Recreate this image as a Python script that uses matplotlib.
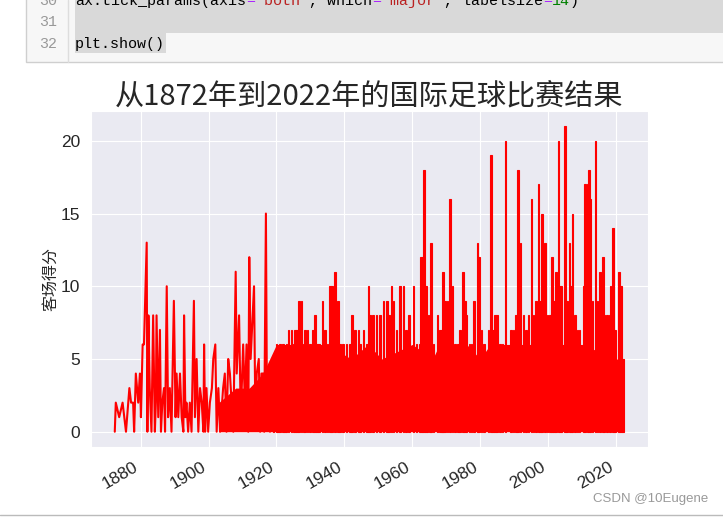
import matplotlib
matplotlib.use('Agg')
import matplotlib.pyplot as plt
import seaborn as sns
from matplotlib.patches import Rectangle
from matplotlib.ticker import MultipleLocator

# away goals (year as decimal)
# sparse early matches, drawn as a plain line
early_years = [1872.4, 1872.7, 1873.7, 1874.7, 1875.7, 1876.7, 1877.2, 1877.8, 1878.1, 1878.6,
               1879.3, 1879.8, 1880.1, 1880.6, 1881.0, 1881.8, 1882.0, 1882.3, 1882.7, 1883.2,
               1883.7, 1884.2, 1884.5, 1884.7, 1885.2, 1885.7, 1886.0, 1886.4, 1886.9, 1887.2,
               1887.7, 1888.1, 1888.6, 1889.1, 1889.8, 1890.3, 1890.6, 1891.1, 1891.6, 1892.1,
               1892.6, 1892.8, 1893.2, 1893.5, 1894.0, 1894.5, 1895.0, 1895.7, 1896.0, 1896.5,
               1897.0, 1897.5, 1898.0, 1898.5, 1898.7, 1899.0, 1899.4, 1899.9, 1900.4, 1901.0,
               1901.4, 1902.0, 1902.4, 1902.9, 1903.4, 1904.3, 1904.8, 1905.3, 1905.8, 1906.3,
               1906.8, 1907.3, 1908.0, 1908.3, 1909.0, 1909.5, 1910.2, 1910.7, 1911.2, 1911.7,
               1912.0, 1912.4, 1913.4, 1913.8, 1914.2, 1914.8, 1915.2, 1915.6, 1916.1, 1916.4,
               1916.9, 1917.2, 1917.6, 1918.1]
early_goals = [0, 2, 1, 2, 0, 3, 2, 2, 0, 4,
               2, 4, 1, 6, 6, 13, 0, 8, 3, 0,
               8, 0, 2, 8, 1, 7, 0, 2, 3, 0,
               10, 1, 3, 0, 9, 1, 4, 1, 4, 1,
               0, 8, 1, 2, 0, 2, 0, 9, 1, 5,
               0, 3, 2, 0, 6, 0, 3, 0, 2, 3,
               5, 6, 0, 3, 0, 3, 4, 0, 5, 4,
               2, 0, 11, 4, 8, 1, 6, 2, 6, 0,
               12, 5, 10, 1, 4, 5, 0, 4, 4, 0,
               15, 2, 3, 0]

# level under which the later matches merge into solid red
floor_years = [1903.0, 1903.0, 1908.0, 1912.0, 1916.0, 1918.0, 1920.0, 1935.0, 1942.0, 1947.0,
               1951.0, 1960.0, 1966.0, 1968.0, 1976.0, 1980.0, 1983.0, 1990.0, 2010.0, 2020.0,
               2022.4, 2022.4]
floor_goals = [0, 2, 3, 3, 4, 5, 6, 6, 5, 6,
               5, 6, 5, 6, 6, 5, 6, 6, 6, 5,
               5, 0]

# top of the dense part, including the tall spikes
peak_years = [1919.1, 1920.0, 1920.5, 1921.0, 1922.0, 1922.5, 1923.0, 1923.5, 1924.5, 1925.0,
              1925.5, 1926.0, 1926.7, 1927.4, 1927.9, 1928.4, 1929.1, 1929.9, 1930.7, 1931.4,
              1931.9, 1932.6, 1933.6, 1934.3, 1935.0, 1935.8, 1936.3, 1937.2, 1938.2, 1938.7,
              1939.6, 1940.6, 1941.6, 1942.2, 1943.1, 1944.1, 1944.6, 1945.6, 1946.6, 1947.05,
              1947.5, 1948.5, 1949.5, 1950.5, 1951.5, 1952.5, 1953.2, 1953.9, 1954.4, 1955.4,
              1956.4, 1957.4, 1958.1, 1959.0, 1960.3, 1961.3, 1962.1, 1962.5, 1963.0, 1963.4,
              1964.0, 1964.5, 1965.2, 1965.5, 1966.2, 1967.4, 1968.2, 1968.7, 1969.1, 1969.6,
              1970.3, 1971.1, 1971.8, 1972.6, 1973.4, 1974.1, 1975.0, 1975.5, 1976.0, 1976.8,
              1977.5, 1978.2, 1979.2, 1979.7, 1980.4, 1981.1, 1982.5, 1983.1, 1983.7, 1984.4,
              1984.9, 1985.8, 1986.6, 1987.5, 1989.0, 1989.8, 1990.5, 1991.2, 1991.9, 1992.7,
              1993.5, 1994.2, 1995.1, 1995.7, 1996.4, 1997.1, 1997.6, 1998.2, 1999.1, 1999.8,
              2000.6, 2001.1, 2001.7, 2002.3, 2003.1, 2003.5, 2004.0, 2005.0, 2005.5, 2006.3,
              2006.7, 2007.2, 2007.9, 2008.6, 2009.2, 2010.4, 2010.9, 2011.6, 2012.1, 2012.5,
              2013.1, 2014.0, 2014.6, 2015.3, 2016.1, 2016.6, 2017.3, 2018.0, 2018.4, 2019.1,
              2019.7, 2020.8, 2021.4, 2022.0]
peak_goals = [5, 6, 5, 6, 6, 5, 6, 7, 7, 6,
              7, 7, 9, 9, 6, 7, 7, 6, 7, 8,
              6, 6, 9, 7, 6, 10, 10, 11, 9, 6,
              6, 6, 6, 8, 7, 7, 6, 7, 6, 10,
              8, 8, 8, 8, 9, 9, 8, 10, 9, 7,
              10, 10, 7, 8, 10, 6, 6, 12, 12, 18,
              10, 8, 8, 13, 6, 8, 7, 7, 11, 9,
              9, 16, 10, 6, 6, 7, 11, 9, 8, 6,
              6, 9, 13, 12, 7, 6, 7, 19, 7, 8,
              8, 6, 6, 20, 7, 7, 8, 18, 13, 8,
              7, 8, 16, 8, 9, 17, 9, 15, 13, 8,
              8, 12, 9, 11, 20, 10, 10, 21, 9, 13,
              10, 15, 8, 7, 7, 10, 17, 17, 18, 16,
              9, 20, 9, 11, 12, 8, 8, 8, 10, 14,
              7, 11, 10, 5]

year_ticks = [1880, 1900, 1920, 1940, 1960, 1980, 2000, 2020]

# the notebook cell above the figure
code_line30 = [("ax.tick_params(axis", "#000000"), ("=", "#aa22ff"), ("'both'", "#ba2121"),
               (", which", "#000000"), ("=", "#aa22ff"), ("'major'", "#ba2121"),
               (", labelsize", "#000000"), ("=", "#aa22ff"), ("14", "#008000"), (")", "#000000")]
line_numbers = ["30", "31", "32"]

sns.set_style("darkgrid")
plt.rcParams['font.family'] = ['Liberation Sans', 'Noto Sans CJK SC', 'DejaVu Sans']

W, H = 723, 517
fig = plt.figure(figsize=(W / 100, H / 100), dpi=100)
fig.patch.set_facecolor('white')

# pixel overlay for the notebook chrome
bg = fig.add_axes([0, 0, 1, 1], zorder=-1)
bg.set_xlim(0, W)
bg.set_ylim(H, 0)
bg.axis('off')
bg.add_patch(Rectangle((26, -5), W, 67, facecolor='#f7f7f7', edgecolor='#cfcfcf', lw=1))
bg.plot([68, 68], [0, 62], color='#dddddd', lw=1)
bg.add_patch(Rectangle((75, -5), W, 38, facecolor='#d9d9d9', lw=0))
bg.add_patch(Rectangle((75, 33), 91, 20, facecolor='#d9d9d9', lw=0))
for i, num in enumerate(line_numbers):
    bg.text(57, 1 + 21.5 * i, num, ha='right', va='center', color='#999999',
            fontsize=10.8, family='Liberation Mono')
col = 0
for seg, c in code_line30:
    bg.text(75 + 9 * col, 1, seg, ha='left', va='center', color=c,
            fontsize=10.8, family='Liberation Mono')
    col += len(seg)
bg.text(75, 44, "plt.show()", ha='left', va='center', color='#000000',
        fontsize=10.8, family='Liberation Mono')
bg.text(708, 499, "CSDN @10Eugene", ha='right', va='center', color='#999999', fontsize=9.5)
bg.plot([0, W], [514.5, 514.5], color='#bbbbbb', lw=1)

ax = fig.add_axes([91 / W, 1 - 447 / H, 557 / W, 336 / H])
ax.fill_between(floor_years, 0, floor_goals, color='red', lw=0)
ax.bar(peak_years, peak_goals, width=0.45, color='red', edgecolor='red', lw=0.8)
ax.plot(early_years, early_goals, color='red', lw=1.5)

ax.set_xlim(1865.4, 2029.4)
ax.set_ylim(-1.05, 22.05)
ax.set_xticks(year_ticks)
ax.yaxis.set_major_locator(MultipleLocator(5))
ax.tick_params(axis='both', which='major', labelsize=12.5, length=0, colors='#262626')
ax.tick_params(axis='y', pad=8)
ax.tick_params(axis='x', pad=9)
for lab in ax.get_xticklabels():
    lab.set_rotation(30)
    lab.set_ha('right')

ax.set_title("从1872年到2022年的国际足球比赛结果", fontsize=21,
             family=['Noto Sans CJK SC'], color='#262626', pad=5)
ax.set_ylabel("客场得分", fontsize=11.5, family=['Noto Sans CJK SC'], color='#262626', labelpad=1)

fig.savefig('out.png', dpi=100)
